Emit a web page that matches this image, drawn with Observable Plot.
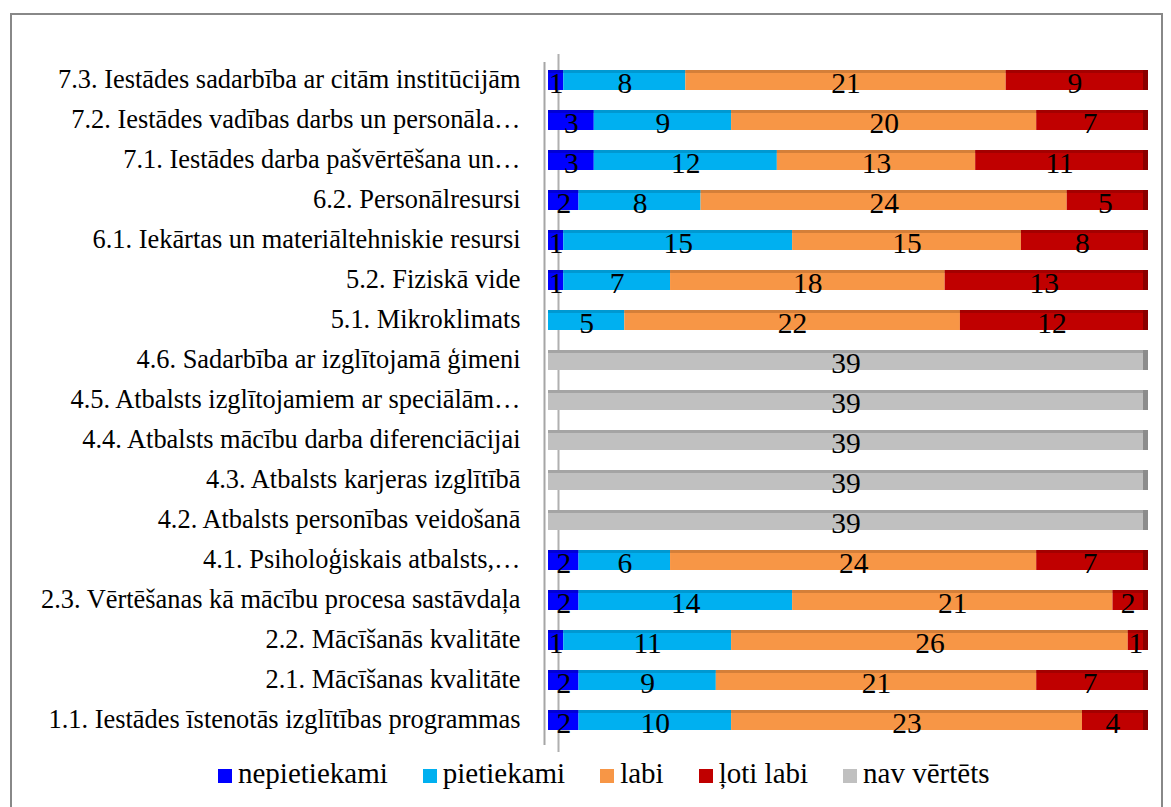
<!DOCTYPE html>
<html>
<head>
<meta charset="utf-8">
<script src="https://cdn.jsdelivr.net/npm/d3@7"></script>
<script src="https://cdn.jsdelivr.net/npm/@observablehq/plot@0.6"></script>
<style>
  html, body { margin: 0; padding: 0; background: #fff; color: #000; }
  #wrap { position: relative; width: 1171px; height: 807px; overflow: hidden; font-family: "Liberation Serif", serif; }
  #border { position: absolute; left: 10px; top: 13px; width: 1153px; height: 800px; border: 2px solid #888; box-sizing: border-box; }
  #chart { position: absolute; left: 0; top: 0; }
  #chart svg text { font-family: "Liberation Serif", serif !important; }
  #legend { position: absolute; left: 218px; top: 759px; display: flex; font-family: "Liberation Serif", serif; font-size: 29px; line-height: 1; color: #000; white-space: nowrap; }
  .item { display: flex; align-items: center; margin-right: 35px; }
  .sw { width: 14px; height: 14px; margin-right: 6px; display: inline-block; position: relative; top: 2px; }
</style>
</head>
<body>
<div id="wrap">
  <div id="border"></div>
  <div id="chart"></div>
  <div id="legend"></div>
</div>
<script>
const categories = [
  "7.3. Iestādes sadarbība ar citām institūcijām",
  "7.2. Iestādes vadības darbs un personāla…",
  "7.1. Iestādes darba pašvērtēšana un…",
  "6.2. Personālresursi",
  "6.1. Iekārtas un materiāltehniskie resursi",
  "5.2. Fiziskā vide",
  "5.1. Mikroklimats",
  "4.6. Sadarbība ar izglītojamā ģimeni",
  "4.5. Atbalsts izglītojamiem ar speciālām…",
  "4.4. Atbalsts mācību darba diferenciācijai",
  "4.3. Atbalsts karjeras izglītībā",
  "4.2. Atbalsts personības veidošanā",
  "4.1. Psiholoģiskais atbalsts,…",
  "2.3. Vērtēšanas kā mācību procesa sastāvdaļa",
  "2.2. Mācīšanās kvalitāte",
  "2.1. Mācīšanas kvalitāte",
  "1.1. Iestādes īstenotās izglītības programmas"
];
const seriesNames = ["nepietiekami", "pietiekami", "labi", "ļoti labi", "nav vērtēts"];
const nepietiekami = [1, 3, 3, 2, 1, 1, 0, 0, 0, 0, 0, 0, 2, 2, 1, 2, 2];
const pietiekami   = [8, 9, 12, 8, 15, 7, 5, 0, 0, 0, 0, 0, 6, 14, 11, 9, 10];
const labi         = [21, 20, 13, 24, 15, 18, 22, 0, 0, 0, 0, 0, 24, 21, 26, 21, 23];
const lotiLabi     = [9, 7, 11, 5, 8, 13, 12, 0, 0, 0, 0, 0, 7, 2, 1, 7, 4];
const navVertets   = [0, 0, 0, 0, 0, 0, 0, 39, 39, 39, 39, 39, 0, 0, 0, 0, 0];
const colors = ["#0000FF", "#00B0F0", "#F79646", "#C00000", "#C0C0C0"];
const darkColors = ["#0000B0", "#0085B8", "#B86E30", "#8A0000", "#8C8C8C"];

const seriesValues = [nepietiekami, pietiekami, labi, lotiLabi, navVertets];
const rows = [];
categories.forEach((c, i) => {
  let acc = 0;
  seriesValues.forEach((vals, s) => {
    const v = vals[i];
    if (v > 0) {
      rows.push({cat: c, series: seriesNames[s], value: v, x1: acc, x2: acc + v, mid: acc + v / 2});
    }
    acc += v;
  });
});
const ends = categories.map((c, i) => ({cat: c, total: d3.sum(seriesValues, vals => vals[i]),
  series: seriesNames[d3.max(seriesValues.map((vals, s) => vals[i] > 0 ? s : -1))]}));

const chart = Plot.plot({
  width: 1171,
  height: 760,
  marginLeft: 548,
  marginRight: 28,
  marginTop: 48,
  marginBottom: 8,
  style: {fontFamily: "Liberation Serif, serif", background: "transparent", overflow: "visible", color: "#000"},
  x: {domain: [0, 39], axis: null},
  y: {domain: categories, padding: 0.5, axis: null},
  color: {domain: seriesNames, range: colors},
  marks: [
    Plot.ruleX([0], {stroke: "#a6a6a6", strokeWidth: 2, dx: -4, insetTop: 14, insetBottom: 7}),
    Plot.ruleX([0], {stroke: "#b0b0b0", strokeWidth: 2, dx: 10, insetTop: 6}),
    Plot.axisY({fontSize: 26.4, tickSize: 0, tickPadding: 28, label: null, dy: -1}),
    Plot.barX(rows, {y: "cat", x1: "x1", x2: "x2", fill: "series"}),
    Plot.barX(rows, {y: "cat", x1: "x1", x2: "x2", fill: d => darkColors[seriesNames.indexOf(d.series)], insetBottom: 17, fillOpacity: 0.55}),
    Plot.tickX(ends, {y: "cat", x: "total", stroke: d => darkColors[seriesNames.indexOf(d.series)], strokeWidth: 5, dx: 2}),
    Plot.text(rows, {y: "cat", x: "mid", text: "value", fontSize: 29.5, fill: "#000", dy: 3})
  ]
});
document.getElementById("chart").appendChild(chart);

const legend = document.getElementById("legend");
seriesNames.forEach((n, i) => {
  const it = document.createElement("div");
  it.className = "item";
  const sw = document.createElement("span");
  sw.className = "sw";
  sw.style.background = colors[i];
  const lab = document.createElement("span");
  lab.textContent = n;
  it.appendChild(sw);
  it.appendChild(lab);
  legend.appendChild(it);
});
</script>
</body>
</html>
